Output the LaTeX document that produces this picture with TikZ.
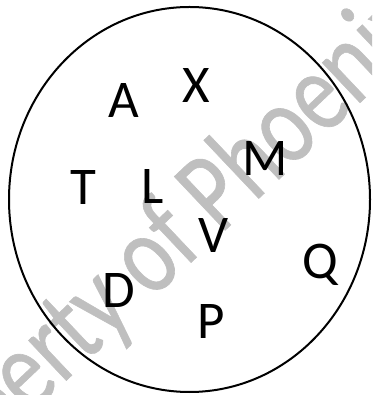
\documentclass[tikz,border=0pt]{standalone}
\usepackage{fontspec}
\setmainfont{Carlito}
\newfontfamily\wmfont[FakeBold=0.6]{Carlito}
\begin{document}
\begin{tikzpicture}[x=1pt,y=1pt,
  letter/.style={inner sep=0pt, anchor=base, font=\fontsize{53}{60}\selectfont},
  wmark/.style={inner sep=0pt, text=black!25, font=\wmfont\fontsize{90}{100}\selectfont}]
\useasboundingbox (0,0) rectangle (372,395);
\clip (0,0) rectangle (372,395);
\node[wmark, anchor=base west, rotate=43.4, yscale=1.28] (wm) at (-95,-138) {Property of Phoenix};
\draw[line width=2pt] (189.5,195.5) ellipse [x radius=180.5, y radius=192.5];
\node[letter] (A) at (124,277) {A};
\node[letter] (X) at (196,292) {X};
\node[letter] (M) at (265,219) {M};
\node[letter] (T) at (83,190) {T};
\node[letter] (L) at (153,191) {L};
\node[letter] (V) at (214,142) {V};
\node[letter] (Q) at (320,116) {Q};
\node[letter] (D) at (119,87) {D};
\node[letter] (P) at (211,56) {P};
\end{tikzpicture}
\end{document}
